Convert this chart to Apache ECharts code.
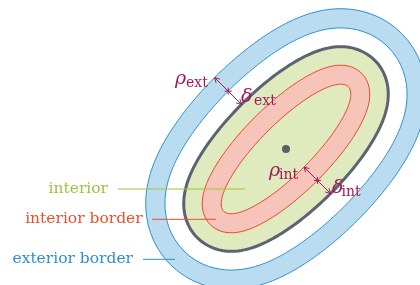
<!DOCTYPE html>
<html>
<head>
<meta charset="utf-8">
<script src="https://cdn.jsdelivr.net/npm/echarts@6/dist/echarts.min.js"></script>
<style>
html, body { margin: 0; padding: 0; background: #fff; }
#chart { width: 420px; height: 285px; }
</style>
</head>
<body>
<div id="chart"></div>
<script>
// base ellipse = innermost red curve (picture units, y grows downward)
const center = [286, 149]
const semiAxes = [88, 25.5]
const tiltDeg = 45

// the other curves are the base ellipse pushed outward by these distances
const curveNames = ['exterior outer', 'exterior inner', 'boundary', 'border outer', 'border inner']
const curveOffsets = [75.5, 56.3, 37.5, 19, 0]

// measuring arrows along the minor axis
const arrowNames = ['ext', 'int']
const arrowAngles = [-90, 90]
const arrowStart = [75.5, 0]
const arrowCross = [56.3, 19]
const arrowEnd = [37.5, 37.5]

const calloutNames = ['interior', 'interior border', 'exterior border']

const curveStyle = [
  { fill: '#b9dcf0', stroke: '#2f8fd0', lw: 1 },
  { fill: '#ffffff', stroke: '#2f8fd0', lw: 1 },
  { fill: '#dfeabf', stroke: '#5d6372', lw: 3 },
  { fill: '#f7c4b9', stroke: '#e9472b', lw: 1 },
  { fill: '#dfeabf', stroke: '#e9472b', lw: 1 }
]
const calloutColor = ['#9bc53d', '#e8502e', '#2e8fcf']
const calloutY = [189, 219.3, 259.3]
const calloutLine = [[118, 245], [152, 216], [143, 175]]
const calloutTextRight = [108, 142.7, 133]
const mathColor = '#a3195b'
// label offsets from arrow start (rho, right aligned) and end (delta): [glyph dx, dy, sub dx, dy]
const rhoPos = [[-28.4, 1.7, -28.6, 6.2], [-23.8, 4.3, -25, 8.3]]
const deltaPos = [[-0.5, -7.2, 12.5, -2.7], [1.5, -5.2, 11, -0.7]]

const th = tiltDeg * Math.PI / 180
const e1 = [Math.cos(th), -Math.sin(th)]
const e2 = [Math.sin(th), Math.cos(th)]

function curvePoint(tDeg, d) {
  const t = tDeg * Math.PI / 180
  const a = semiAxes[0], b = semiAxes[1]
  let px = a * Math.cos(t), py = b * Math.sin(t)
  let nx = b * Math.cos(t), ny = a * Math.sin(t)
  const n = Math.hypot(nx, ny)
  px += d * nx / n
  py += d * ny / n
  return [center[0] + px * e1[0] + py * e2[0], center[1] + px * e1[1] + py * e2[1]]
}

const chart = echarts.init(document.getElementById('chart'))

function arrowHead(api, tip, from, color) {
  const p = api.coord(tip), q = api.coord(from)
  const ang = Math.atan2(p[1] - q[1], p[0] - q[0])
  const L = 5.5, w = 0.5
  return {
    type: 'polyline',
    shape: { points: [
      [p[0] - L * Math.cos(ang - w), p[1] - L * Math.sin(ang - w)],
      p,
      [p[0] - L * Math.cos(ang + w), p[1] - L * Math.sin(ang + w)]
    ] },
    style: { stroke: color, lineWidth: 1, fill: null }
  }
}

function mathText(x, y, txt, size, italic, align) {
  return {
    type: 'text',
    x: x, y: y,
    style: {
      text: txt, fill: mathColor, align: align || 'left', verticalAlign: 'middle',
      font: (italic ? 'italic ' : '') + size + 'px "DejaVu Serif"'
    }
  }
}

chart.setOption({
  animation: false,
  backgroundColor: '#fff',
  grid: { left: 0, right: 0, top: 0, bottom: 0 },
  xAxis: { type: 'value', min: 0, max: 420, show: false },
  yAxis: { type: 'value', min: 0, max: 285, inverse: true, show: false },
  series: [
    {
      type: 'custom',
      name: 'curves',
      data: curveOffsets.map((d, i) => [i, d]),
      renderItem: function (params, api) {
        const i = api.value(0), d = api.value(1)
        const pts = []
        for (let t = 0; t < 360; t += 2) pts.push(api.coord(curvePoint(t, d)))
        const s = curveStyle[i]
        return {
          type: 'polygon',
          shape: { points: pts },
          style: { fill: s.fill, stroke: s.stroke, lineWidth: s.lw }
        }
      }
    },
    {
      type: 'scatter',
      data: [center],
      symbolSize: 8,
      itemStyle: { color: '#363e4e' }
    },
    {
      type: 'custom',
      name: 'arrows',
      data: arrowNames.map((n, i) => [i, arrowAngles[i]]),
      renderItem: function (params, api) {
        const i = api.value(0), t = api.value(1)
        const a = curvePoint(t, arrowStart[i])
        const c = curvePoint(t, arrowCross[i])
        const b = curvePoint(t, arrowEnd[i])
        const pa = api.coord(a), pb = api.coord(b), pc = api.coord(c)
        const k = 3.5
        const sub = arrowNames[i]
        const rp = rhoPos[i], dp = deltaPos[i]
        return {
          type: 'group',
          children: [
            { type: 'line', shape: { x1: pa[0], y1: pa[1], x2: pb[0], y2: pb[1] }, style: { stroke: mathColor, lineWidth: 1 } },
            arrowHead(api, a, b, mathColor),
            arrowHead(api, b, a, mathColor),
            { type: 'line', shape: { x1: pc[0] - k, y1: pc[1], x2: pc[0] + k, y2: pc[1] }, style: { stroke: mathColor, lineWidth: 1 } },
            { type: 'line', shape: { x1: pc[0], y1: pc[1] - k, x2: pc[0], y2: pc[1] + k }, style: { stroke: mathColor, lineWidth: 1 } },
            mathText(pa[0] + rp[0], pa[1] + rp[1], 'ρ', 19, true, 'right'),
            mathText(pa[0] + rp[2], pa[1] + rp[3], sub, 14, false),
            mathText(pb[0] + dp[0], pb[1] + dp[1], 'δ', 19, true),
            mathText(pb[0] + dp[2], pb[1] + dp[3], sub, 14, false)
          ]
        }
      }
    },
    {
      type: 'custom',
      name: 'callouts',
      data: calloutNames.map((n, i) => [i, calloutY[i]]),
      renderItem: function (params, api) {
        const i = api.value(0), y = api.value(1)
        const p1 = api.coord([calloutLine[i][0], y])
        const p2 = api.coord([calloutLine[i][1], y])
        const pt = api.coord([calloutTextRight[i], y])
        return {
          type: 'group',
          children: [
            { type: 'line', shape: { x1: p1[0], y1: p1[1], x2: p2[0], y2: p2[1] }, style: { stroke: calloutColor[i], lineWidth: 1 } },
            {
              type: 'text', x: pt[0], y: pt[1] - 0.5,
              style: {
                text: calloutNames[i], fill: calloutColor[i], align: 'right', verticalAlign: 'middle',
                font: '15.5px "DejaVu Serif"'
              }
            }
          ]
        }
      }
    }
  ]
})
</script>
</body>
</html>
